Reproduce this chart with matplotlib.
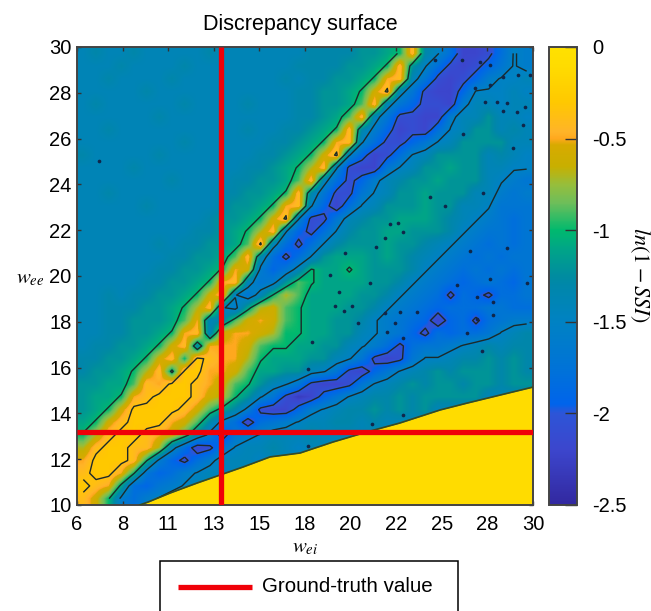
import numpy as np
import matplotlib
matplotlib.use('Agg')
import matplotlib.pyplot as plt
from matplotlib.colors import LinearSegmentedColormap
from matplotlib.lines import Line2D
from matplotlib.patches import Rectangle

plt.rcParams['font.family'] = ['Liberation Sans', 'DejaVu Sans']
plt.rcParams['mathtext.fontset'] = 'stix'

x_ticks = [6, 8.4, 10.8, 13.2, 15.6, 18, 20.4, 22.8, 25.2, 27.6, 30]
x_labels = ['6', '8', '11', '13', '15', '18', '20', '22', '25', '28', '30']
y_ticks = [10, 12, 14, 16, 18, 20, 22, 24, 26, 28, 30]
cbar_ticks = [0, -0.5, -1, -1.5, -2, -2.5]
cbar_labels = ['0', '-0.5', '-1', '-1.5', '-2', '-2.5']
levels = [-2.02, -1.52, -1.02, -0.35]  # contours, just off the tenths of the grid

true_wei = 13.6
true_wee = 13.2

# lower edge of the surface: below this line everything sits at 0
floor_wei = [9.3, 9.74, 10.89, 12.32, 13.53, 14.74, 16.16, 17.74, 19.47, 21.26, 22.99, 25.11, 26.53, 28.26, 30.0]
floor_wee = [10.0, 10.13, 10.52, 10.96, 11.31, 11.66, 12.10, 12.27, 12.75, 13.19, 13.58, 14.15, 14.45, 14.80, 15.15]

# single-cell dips, too small for the grid below
speck_wei = [7.16, 24.84, 26.26, 27.21, 27.74, 28.42, 29.21, 29.84, 26.95, 27.74, 27.47, 28.11, 28.63, 28.42, 29.16,
             29.58, 29.47, 26.32, 28.95, 24.58, 25.37, 27.37, 22.47, 22.89, 23.16, 22.21, 21.74, 20.11, 26.68, 28.63,
             19.79, 19.32, 21.42, 20.47, 19.58, 20.05, 22.21, 23.0, 23.89, 20.79, 22.74, 22.32, 23.16, 18.37, 18.16,
             27.05, 27.89, 26.53, 27.32, 26.0, 27.05, 27.89, 29.68, 27.74, 23.16, 21.53, 18.16]
speck_wee = [25.02, 29.43, 29.43, 29.35, 29.21, 28.69, 28.78, 28.78, 28.21, 28.34, 27.6, 27.6, 27.55, 27.2, 27.16,
             27.38, 26.59, 26.2, 25.59, 23.45, 23.06, 23.62, 22.27, 22.31, 21.92, 21.66, 21.27, 21.0, 21.09, 21.22,
             19.3, 20.04, 19.69, 18.69, 18.69, 18.47, 18.38, 18.43, 18.43, 17.95, 17.95, 17.55, 17.29, 17.12, 15.94,
             18.12, 18.3, 17.51, 16.72, 19.61, 19.08, 18.86, 19.69, 19.87, 13.93, 13.54, 12.58]

cmap_vals = [-2.5, -2.2, -2.0, -1.95, -1.75, -1.5, -1.3, -1.25, -1.1, -1.0, -0.85, -0.75, -0.65, -0.53, -0.5, -0.46,
             -0.3, -0.1, 0]
cmap_cols = ['#32289f', '#3c46cd', '#2d55d7', '#0064eb', '#0073d7', '#0082c3', '#0087aa', '#008ca0', '#00a587',
             '#00b96e', '#6ebe5a', '#96be3c', '#c8af00', '#d8aa00', '#ffa81e', '#ffb428', '#ffc800', '#ffdc00',
             '#ffe100']

# ln(1-SSI) in tenths, top row first (w_ee = 30 down to 10), w_ei = 6 to 30 left to right
rows = [
    [-14, -13, -14, -14, -13, -14, -14, -14, -14, -14, -13, -14, -14, -14, -14, -14, -14, -14, -13, -13, -13, -13, -12, -12, -11, -10, -4, -13, -15, -18, -22, -22, -21, -18, -15, -16],
    [-14, -14, -14, -13, -14, -14, -14, -14, -13, -14, -14, -14, -14, -14, -14, -14, -14, -13, -13, -13, -13, -12, -12, -11, -10, -4, -12, -15, -18, -21, -22, -21, -19, -17, -15, -16],
    [-14, -14, -13, -14, -14, -14, -14, -13, -14, -14, -14, -14, -14, -14, -14, -14, -13, -14, -13, -13, -12, -12, -11, -10, -5, -4, -14, -17, -21, -22, -21, -19, -16, -15, -15, -14],
    [-14, -14, -14, -14, -14, -13, -14, -14, -14, -14, -14, -14, -14, -14, -14, -14, -14, -13, -13, -12, -12, -11, -10, -6, -3, -14, -17, -21, -22, -22, -19, -15, -15, -15, -14, -15],
    [-14, -13, -14, -14, -14, -14, -14, -14, -13, -14, -14, -14, -14, -13, -14, -14, -14, -13, -13, -12, -12, -11, -9, -4, -14, -17, -19, -21, -21, -22, -16, -14, -14, -15, -14, -14],
    [-14, -14, -14, -14, -14, -14, -13, -14, -14, -14, -14, -14, -14, -14, -14, -14, -14, -13, -13, -12, -11, -9, -4, -14, -17, -21, -21, -22, -22, -16, -14, -14, -12, -14, -14, -15],
    [-14, -14, -13, -14, -14, -14, -14, -14, -14, -14, -14, -14, -14, -13, -14, -14, -13, -13, -12, -11, -10, -4, -13, -16, -19, -22, -21, -22, -18, -15, -14, -12, -12, -14, -13, -14],
    [-14, -14, -14, -14, -14, -14, -14, -14, -13, -14, -14, -14, -14, -14, -14, -13, -13, -12, -11, -10, -5, -4, -15, -18, -21, -21, -19, -17, -15, -14, -12, -12, -12, -12, -14, -14],
    [-13, -14, -14, -14, -14, -14, -13, -14, -14, -14, -14, -14, -14, -14, -13, -13, -12, -11, -10, -6, -3, -15, -19, -22, -21, -18, -15, -14, -12, -12, -12, -12, -14, -13, -14, -15],
    [-14, -14, -14, -14, -13, -14, -14, -14, -14, -14, -14, -14, -14, -13, -13, -12, -11, -10, -7, -4, -15, -21, -22, -22, -17, -15, -14, -12, -12, -11, -12, -12, -14, -14, -15, -15],
    [-14, -14, -14, -14, -14, -14, -14, -13, -14, -14, -14, -14, -13, -13, -12, -12, -11, -9, -4, -14, -18, -21, -19, -16, -14, -13, -12, -12, -11, -12, -12, -12, -14, -15, -16, -17],
    [-14, -14, -13, -14, -14, -14, -14, -14, -14, -14, -14, -13, -13, -12, -12, -11, -10, -4, -13, -17, -21, -21, -17, -15, -14, -12, -12, -11, -12, -12, -12, -14, -14, -16, -17, -16],
    [-14, -14, -14, -14, -14, -13, -14, -14, -14, -14, -14, -13, -12, -12, -11, -10, -5, -4, -15, -19, -22, -18, -15, -14, -12, -12, -12, -11, -12, -12, -14, -14, -15, -17, -17, -17],
    [-14, -14, -14, -14, -14, -14, -14, -14, -14, -14, -13, -12, -12, -11, -10, -6, -3, -15, -21, -21, -17, -14, -13, -12, -12, -11, -11, -11, -12, -13, -14, -15, -16, -17, -18, -17],
    [-14, -14, -14, -14, -14, -14, -14, -14, -14, -13, -13, -12, -11, -10, -7, -4, -15, -19, -21, -18, -15, -13, -12, -12, -11, -11, -12, -12, -12, -13, -15, -16, -17, -17, -18, -17],
    [-14, -14, -14, -14, -14, -14, -13, -14, -13, -13, -12, -12, -11, -9, -3, -14, -18, -21, -18, -15, -13, -12, -12, -12, -11, -12, -12, -13, -14, -15, -16, -17, -18, -17, -18, -17],
    [-14, -14, -14, -14, -14, -14, -14, -13, -13, -12, -12, -11, -9, -4, -13, -18, -21, -18, -15, -12, -11, -11, -11, -12, -11, -12, -13, -14, -15, -16, -17, -18, -17, -18, -17, -17],
    [-14, -14, -14, -14, -14, -14, -13, -13, -12, -12, -11, -10, -5, -6, -16, -19, -17, -14, -10, -11, -11, -10, -11, -12, -12, -12, -13, -15, -16, -17, -18, -17, -18, -17, -18, -17],
    [-14, -14, -14, -14, -14, -13, -13, -12, -12, -11, -10, -5, -4, -14, -17, -16, -12, -9, -10, -11, -11, -11, -11, -12, -12, -13, -15, -16, -17, -18, -19, -18, -17, -18, -19, -17],
    [-14, -14, -13, -14, -13, -13, -12, -12, -11, -10, -6, -4, -15, -17, -14, -10, -7, -9, -11, -11, -11, -11, -12, -12, -13, -15, -16, -17, -18, -21, -18, -19, -21, -18, -18, -17],
    [-14, -14, -13, -13, -13, -12, -12, -11, -10, -7, -4, -15, -16, -11, -7, -6, -9, -10, -11, -11, -11, -12, -12, -13, -15, -16, -17, -18, -19, -18, -18, -18, -17, -17, -18, -18],
    [-14, -14, -13, -13, -12, -12, -12, -11, -9, -5, -14, -13, -9, -6, -5, -6, -9, -10, -11, -11, -12, -12, -13, -15, -16, -17, -18, -19, -22, -19, -18, -21, -18, -17, -16, -16],
    [-14, -14, -13, -13, -12, -12, -11, -10, -5, -4, -14, -6, -5, -5, -6, -7, -10, -10, -11, -11, -12, -12, -14, -15, -16, -17, -19, -21, -18, -19, -18, -18, -17, -15, -14, -13],
    [-14, -13, -13, -12, -12, -11, -10, -6, -4, -13, -5, -5, -5, -6, -9, -10, -10, -11, -11, -12, -12, -14, -15, -16, -18, -21, -18, -17, -17, -16, -15, -14, -13, -14, -13, -13],
    [-13, -13, -12, -12, -11, -10, -6, -4, -10, -3, -4, -5, -5, -7, -10, -11, -11, -11, -12, -12, -14, -15, -17, -21, -22, -21, -17, -15, -15, -14, -13, -13, -12, -13, -12, -13],
    [-13, -12, -12, -11, -10, -7, -4, -11, -3, -3, -5, -5, -6, -9, -11, -11, -12, -12, -14, -15, -17, -21, -22, -19, -17, -15, -14, -13, -12, -13, -12, -12, -12, -13, -12, -13],
    [-12, -12, -11, -11, -9, -4, -5, -3, -3, -4, -5, -6, -9, -10, -12, -14, -15, -17, -21, -22, -22, -21, -17, -15, -14, -13, -12, -13, -12, -12, -13, -12, -12, -13, -12, -12],
    [-12, -11, -11, -10, -5, -4, -3, -3, -3, -4, -6, -7, -10, -12, -15, -17, -21, -23, -22, -19, -17, -15, -14, -13, -13, -12, -13, -12, -12, -12, -12, -12, 0, 0, 0, 0],
    [-12, -11, -10, -6, -3, -3, -3, -3, -4, -6, -9, -11, -13, -16, -21, -22, -22, -19, -16, -15, -14, -13, -13, -12, -13, -12, -13, -12, 0, 0, 0, 0, 0, 0, 0, 0],
    [-11, -10, -6, -4, -3, -3, -3, -5, -6, -9, -13, -16, -18, -22, -18, -17, -16, -15, -14, -14, -13, -13, -14, -13, -14, 0, 0, 0, 0, 0, 0, 0, 0, 0, 0, 0],
    [-10, -7, -4, -3, -3, -4, -5, -6, -9, -13, -16, -22, -17, -16, -15, -14, -14, -14, -13, -14, -14, -14, 0, 0, 0, 0, 0, 0, 0, 0, 0, 0, 0, 0, 0, 0],
    [-7, -4, -3, -3, -4, -4, -7, -14, -18, -22, -21, -17, -15, -14, -14, -13, -14, -15, 0, 0, 0, 0, 0, 0, 0, 0, 0, 0, 0, 0, 0, 0, 0, 0, 0, 0],
    [-5, -3, -3, -3, -4, -10, -16, -19, -21, -18, -16, -14, -14, -14, -15, 0, 0, 0, 0, 0, 0, 0, 0, 0, 0, 0, 0, 0, 0, 0, 0, 0, 0, 0, 0, 0],
    [-4, -3, -3, -5, -10, -17, -19, -18, -16, -15, -14, -15, 0, 0, 0, 0, 0, 0, 0, 0, 0, 0, 0, 0, 0, 0, 0, 0, 0, 0, 0, 0, 0, 0, 0, 0],
    [-3, -4, -5, -11, -18, -19, -17, -16, -15, 0, 0, 0, 0, 0, 0, 0, 0, 0, 0, 0, 0, 0, 0, 0, 0, 0, 0, 0, 0, 0, 0, 0, 0, 0, 0, 0],
    [-4, -6, -10, -16, -18, -16, -15, 0, 0, 0, 0, 0, 0, 0, 0, 0, 0, 0, 0, 0, 0, 0, 0, 0, 0, 0, 0, 0, 0, 0, 0, 0, 0, 0, 0, 0],
]

surface = np.array(rows) / 10
surface[surface == 0] = -1.4  # these cells end up under the floor polygon, keeps contours off the staircase
n_y, n_x = surface.shape
x_edges = np.linspace(6, 30, n_x + 1)
y_edges = np.linspace(30, 10, n_y + 1)
x_mid = (x_edges[:-1] + x_edges[1:]) / 2
y_mid = (y_edges[:-1] + y_edges[1:]) / 2

pos = (np.array(cmap_vals) + 2.5) / 2.5
cmap = LinearSegmentedColormap.from_list('discrepancy', list(zip(pos, cmap_cols)), N=512)

W, H = 651, 611
fig = plt.figure(figsize=(W / 100, H / 100), dpi=100)
ax = fig.add_axes([77 / W, (H - 505) / H, 456 / W, 458 / H])
cax = fig.add_axes([549 / W, (H - 505) / H, 28 / W, 458 / H])

im = ax.imshow(surface, extent=[6, 30, 10, 30], origin='upper', aspect='auto', cmap=cmap, vmin=-2.5, vmax=0,
               interpolation='bilinear')
ax.contour(x_mid, y_mid, surface, levels=levels, colors='#1c2a2a', linewidths=1.0, negative_linestyles='solid',
           zorder=2)
ax.scatter(speck_wei, speck_wee, s=7, c='#10264a', linewidths=0, zorder=2.1)
ax.fill_between(floor_wei, 10, floor_wee, color='#ffdc00', lw=0, zorder=2.5)
ax.plot(floor_wei, floor_wee, color='#3a4a20', lw=1.2, zorder=2.6)
ax.axvline(true_wei, color='#f00008', lw=3.8, solid_capstyle='butt', zorder=3)
ax.axhline(true_wee, color='#f00008', lw=3.8, solid_capstyle='butt', zorder=3)

ax.set_xlim(6, 30)
ax.set_ylim(10, 30)
ax.set_xticks(x_ticks)
ax.set_xticklabels(x_labels)
ax.set_yticks(y_ticks)
ax.tick_params(direction='in', top=True, right=True, length=3, width=1, color='#333333', labelsize=14.5, pad=4)
ax.tick_params(axis='x', pad=7)
for s in ax.spines.values():
    s.set_color('#444444')
    s.set_linewidth(1.4)
ax.set_title('Discrepancy surface', fontsize=15.5, x=(300 - 77) / 456, pad=12)

cb = fig.colorbar(im, cax=cax)
cb.set_ticks(cbar_ticks)
cb.set_ticklabels(cbar_labels)
cb.ax.tick_params(direction='in', length=9, width=1, color='#333333', labelsize=14.5, pad=11)
cb.outline.set_edgecolor('#444444')
cb.outline.set_linewidth(1.4)

fig.text(305 / W, 1 - 547 / H, r'$w_{ei}$', fontsize=15, ha='center', va='center')
fig.text(30 / W, 1 - 278 / H, r'$w_{ee}$', fontsize=15, ha='center', va='center')
fig.text(640 / W, 1 - 275 / H, r'$ln(1-SSI)$', fontsize=16, rotation=-90, ha='center', va='center')

# legend box runs off the bottom of the picture
fig.add_artist(Rectangle((160 / W, -5 / H), 298 / W, (H - 561 + 5) / H, transform=fig.transFigure, facecolor='white',
                         edgecolor='black', lw=1.1))
fig.add_artist(Line2D([178 / W, 252 / W], [1 - 587 / H, 1 - 587 / H], color='#f00008', lw=3.8,
                      solid_capstyle='butt'))
fig.text(262 / W, 1 - 587 / H, 'Ground-truth value', fontsize=14.8, ha='left', va='center')

fig.savefig('out.png', dpi=100)
